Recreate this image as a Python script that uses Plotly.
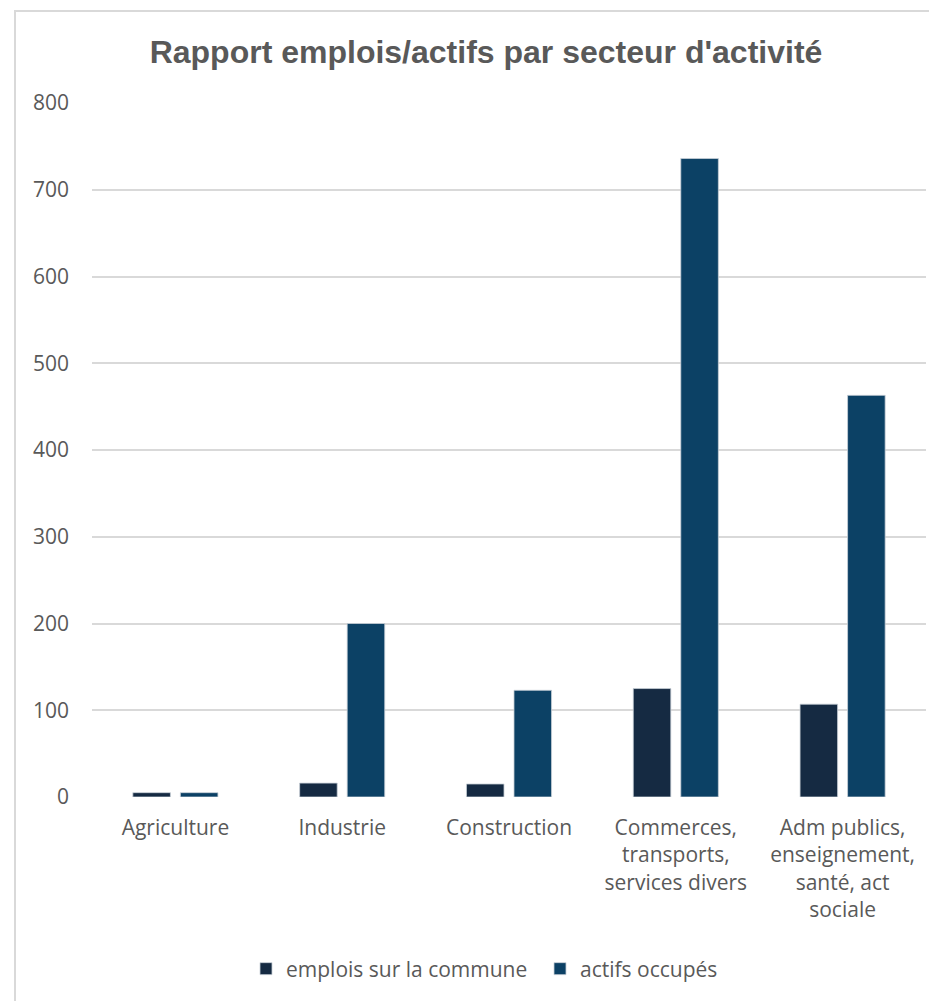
import plotly.graph_objects as go

categories = [
    "Agriculture",
    "Industrie",
    "Construction",
    "Commerces,<br>transports,<br>services divers",
    "Adm publics,<br>enseignement,<br>santé, act<br>sociale",
]
emplois_commune = [5, 16, 15, 125, 107]
actifs_occupes = [5, 200, 123, 736, 463]
y_ticks = [0, 100, 200, 300, 400, 500, 600, 700, 800]

W, H = 929, 1001
ML, MR, MT, MB = 92, 3, 103, 204
PW, PH = W - ML - MR, H - MT - MB


def px_x(p):
    return (p - ML) / PW


def px_y(p):
    return (H - MB - p) / PH


fig = go.Figure()
fig.add_trace(go.Bar(
    x=categories, y=emplois_commune, name="emplois sur la commune",
    marker=dict(color="#152a42", line=dict(color="#c9d0d8", width=0.8)),
))
fig.add_trace(go.Bar(
    x=categories, y=actifs_occupes, name="actifs occupés",
    marker=dict(color="#0c4165", line=dict(color="#c9d0d8", width=0.8)),
))

fig.update_layout(
    width=W, height=H,
    margin=dict(l=ML, r=MR, t=MT, b=MB),
    paper_bgcolor="white", plot_bgcolor="white",
    barmode="group", bargap=0.43, bargroupgap=0.21,
    font=dict(family="Open Sans", size=21, color="#595959"),
    title=dict(
        text="<b>Rapport emplois/actifs par secteur d'activité</b>",
        font=dict(family="Liberation Sans", size=32, color="#595959"),
        x=px_x(486), xref="paper", xanchor="center",
        y=1 - 52 / H, yref="container", yanchor="middle",
    ),
    xaxis=dict(
        showgrid=False, zeroline=False, showline=False, ticks="",
        ticklabelstandoff=16,
        tickfont=dict(size=21, color="#595959"),
    ),
    yaxis=dict(
        range=[0, 800], tickvals=y_ticks, showgrid=True,
        gridcolor="#d9d9d9", gridwidth=1.5, zeroline=False, showline=False,
        ticks="", ticklabelstandoff=22,
        tickfont=dict(size=21, color="#595959"),
    ),
    legend=dict(
        orientation="h", x=px_x(246), xanchor="left",
        y=px_y(969), yanchor="middle",
        font=dict(size=21, color="#595959"),
        entrywidth=249, tracegroupgap=0,
    ),
    shapes=[dict(
        type="rect", xref="paper", yref="paper",
        x0=px_x(15), x1=px_x(1000), y0=px_y(11), y1=px_y(1100),
        line=dict(color="#d9d9d9", width=2), fillcolor="rgba(0,0,0,0)",
        layer="below",
    )],
)

fig.write_html("out.html")
